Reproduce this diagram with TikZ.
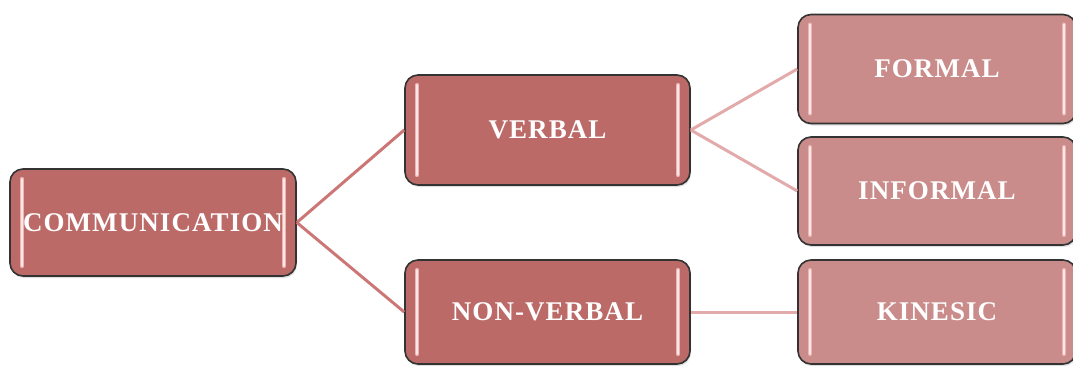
\documentclass[tikz,border=0pt]{standalone}
\usepackage{fontspec}
\setmainfont{Liberation Serif}
\newfontfamily\boxfont[LetterSpace=4]{Liberation Serif}
\usetikzlibrary{shadows}
\definecolor{boxdark}{HTML}{BC6A68}
\definecolor{boxlight}{HTML}{C98C8A}
\definecolor{linkdark}{HTML}{CC7676}
\definecolor{linklight}{HTML}{E2AAAA}
\definecolor{barhi}{HTML}{EDB4B4}
\definecolor{barcore}{HTML}{FDE6E6}
\tikzset{
  box/.style={draw=black!80, line width=1.6pt, rounded corners=13pt,
    minimum width=285pt, minimum height=108pt, inner sep=0pt,
    text=white, font=\boxfont\fontsize{27}{32}\selectfont\bfseries,
    drop shadow={shadow xshift=1pt, shadow yshift=-2pt, opacity=0.25},
    path picture={
      \foreach \c/\w in {barhi/4.2pt, barcore/1.6pt}{
      \draw[\c, line width=\w, line cap=round]
        ([xshift=12pt,yshift=-10pt]path picture bounding box.north west) --
        ([xshift=12pt,yshift=10pt]path picture bounding box.south west);
      \draw[\c, line width=\w, line cap=round]
        ([xshift=-12pt,yshift=-10pt]path picture bounding box.north east) --
        ([xshift=-12pt,yshift=10pt]path picture bounding box.south east);
      }
    }},
  lvlA/.style={box, fill=boxdark},
  lvlB/.style={box, fill=boxlight},
  linkA/.style={draw=linkdark, line width=3pt},
  linkB/.style={draw=linklight, line width=3pt}
}
\begin{document}
\begin{tikzpicture}[x=1pt,y=-1pt]
\useasboundingbox (0,0) rectangle (1073,365);
\node[lvlA, minimum width=286pt, minimum height=107pt] (comm) at (153,222.5) {COMMUNICATION};
\node[lvlA, minimum height=110pt] (verbal) at (547.5,130) {VERBAL};
\node[lvlA, minimum height=104pt] (nonverbal) at (547.5,312) {NON-VERBAL};
\node[lvlB, minimum width=278pt, minimum height=109pt] (formal) at (937,69) {FORMAL};
\node[lvlB, minimum width=278pt, minimum height=108pt] (informal) at (937,191) {INFORMAL};
\node[lvlB, minimum width=278pt, minimum height=104pt] (kinesic) at (937,312) {KINESIC};
\draw[linkA] (comm.east) -- (verbal.west);
\draw[linkA] (comm.east) -- (nonverbal.west);
\draw[linkB] (verbal.east) -- (formal.west);
\draw[linkB] (verbal.east) -- (informal.west);
\draw[linkB] (nonverbal.east) -- (kinesic.west);
\end{tikzpicture}
\end{document}
